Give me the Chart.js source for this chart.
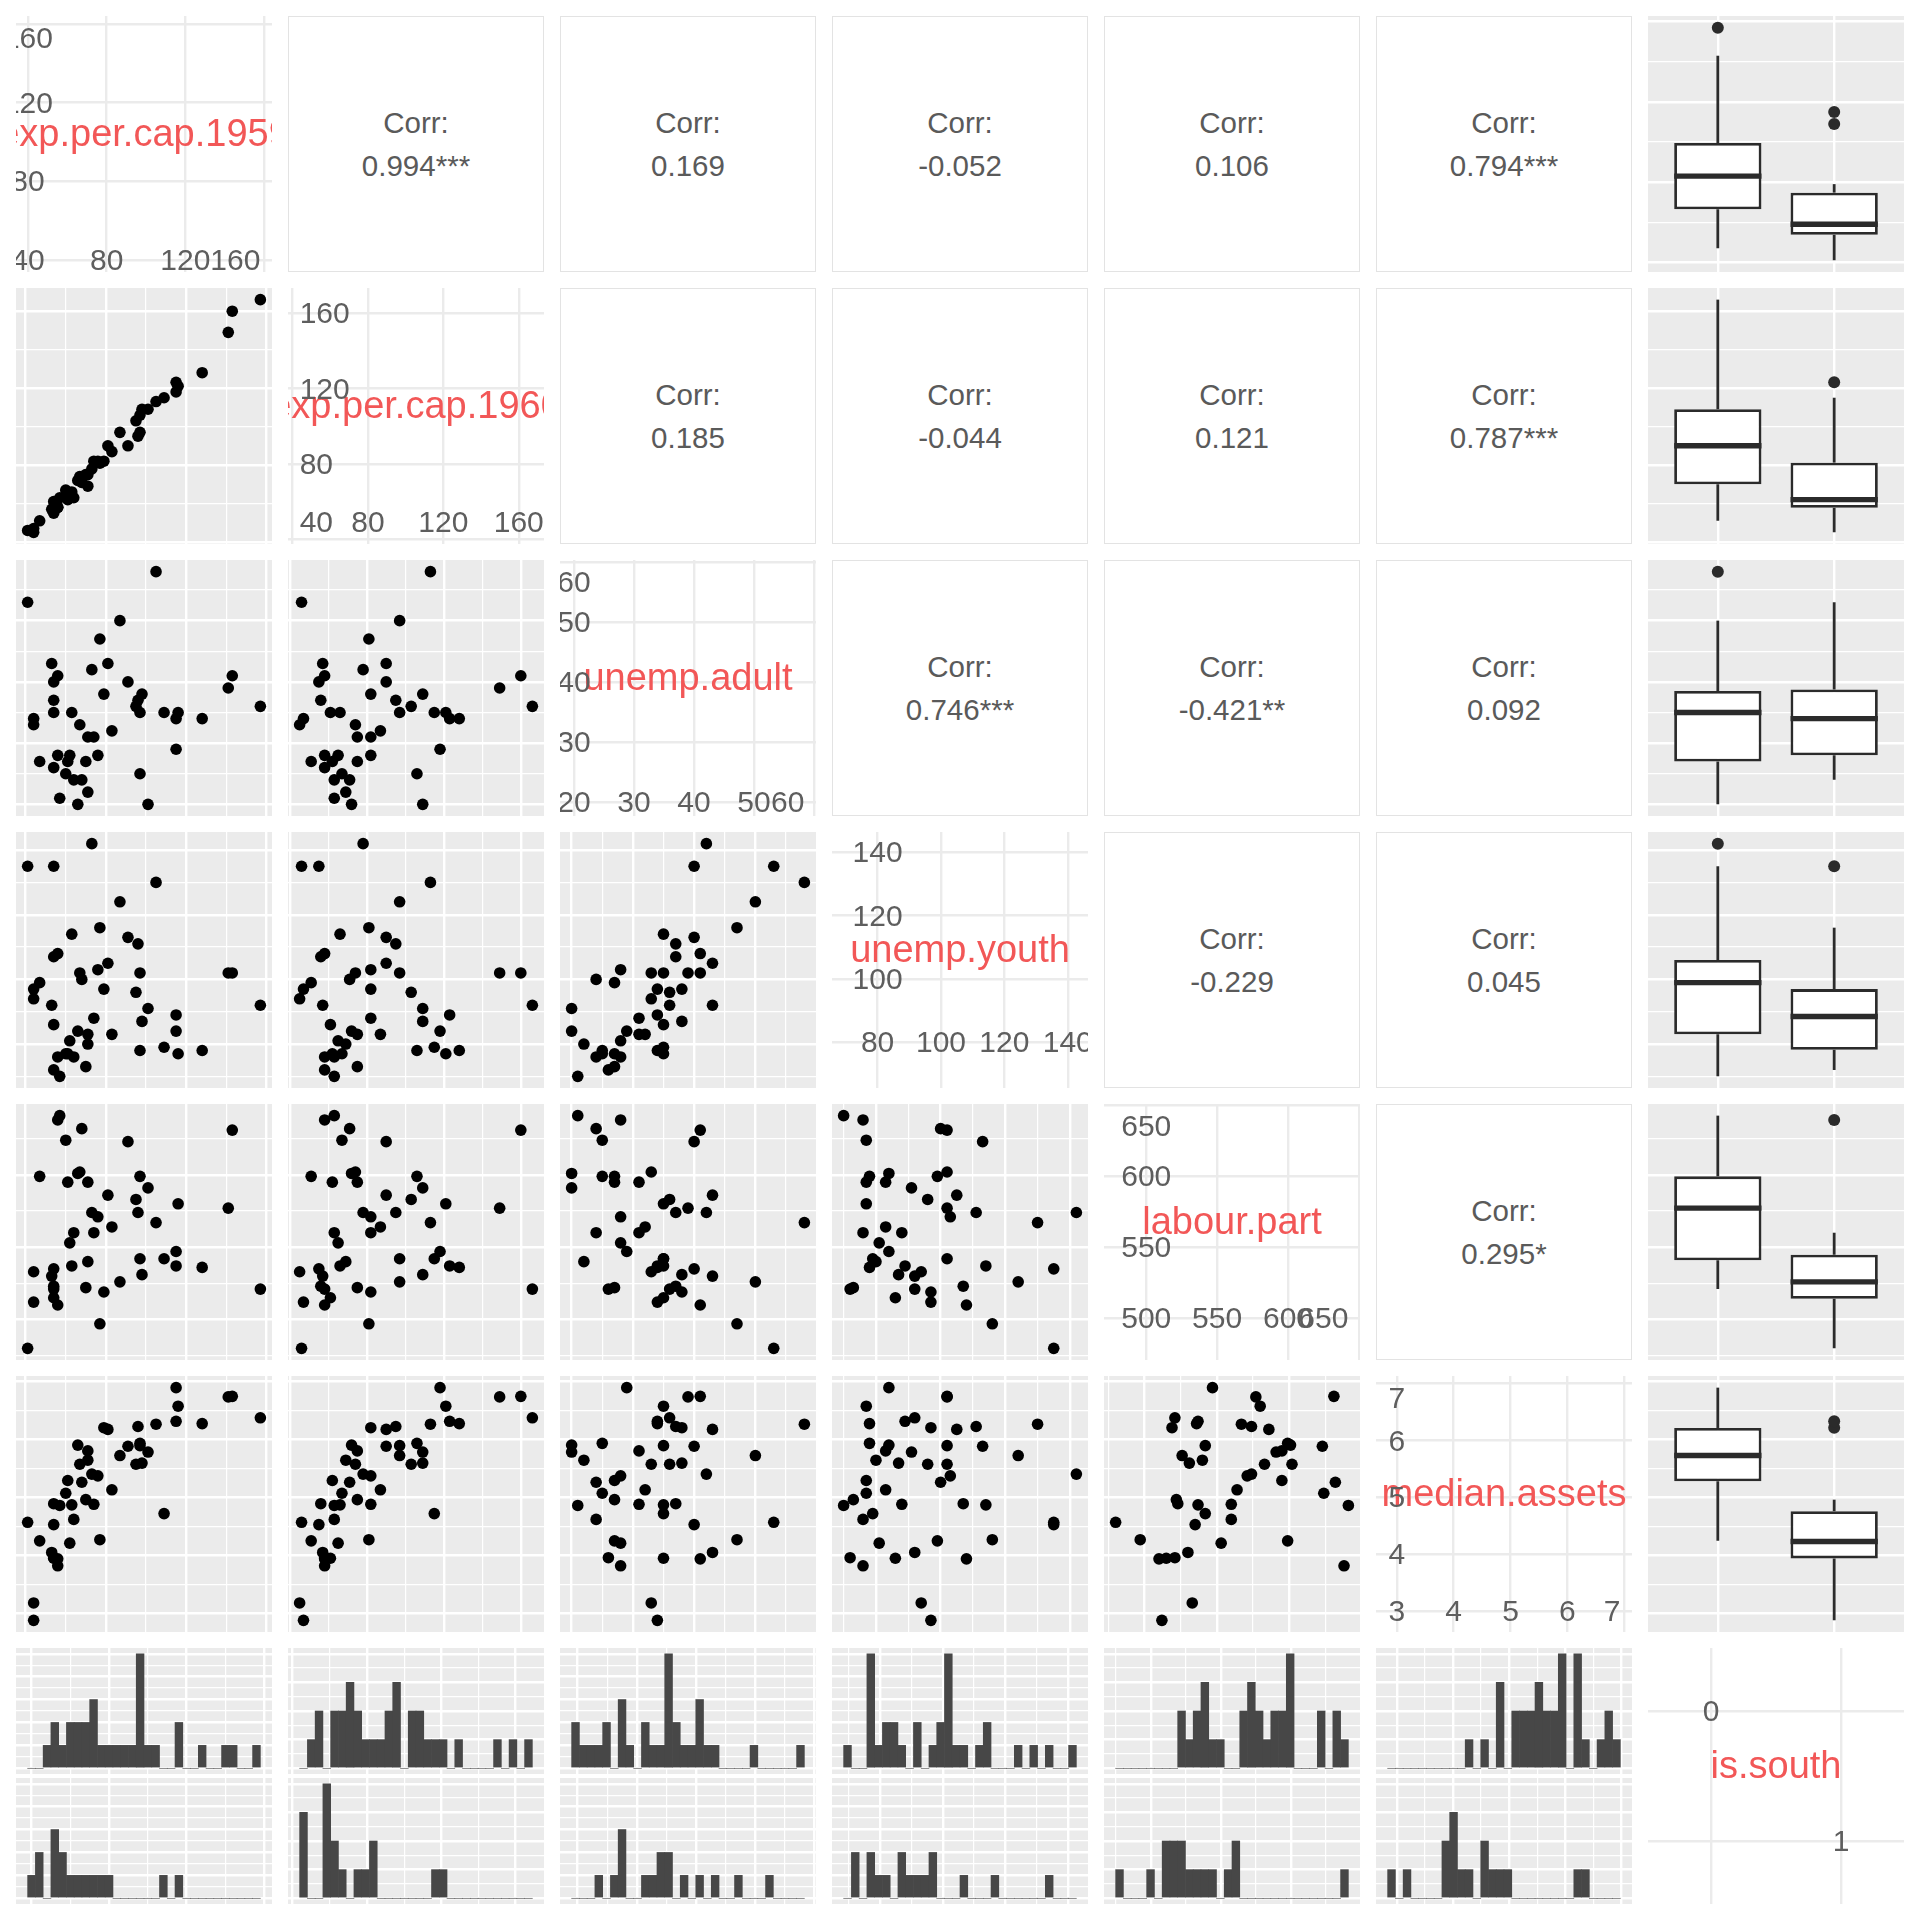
<!DOCTYPE html>
<html>
<head>
<meta charset="utf-8">
<title>ggpairs – UScrime subset</title>
<script src="https://cdn.jsdelivr.net/npm/chart.js@4.4.1/dist/chart.umd.min.js"></script>
<style>
  html, body { margin: 0; padding: 0; background: #ffffff; }
  #wrap { position: relative; width: 1920px; height: 1920px; background: #ffffff;
          font-family: "Liberation Sans", Arial, Helvetica, sans-serif; }
  .panel { position: absolute; overflow: hidden; }
  .panel canvas { display: block; }
  .corr { box-sizing: border-box; border: 1px solid #E3E3E3; background: #ffffff;
          display: flex; flex-direction: column; justify-content: center; align-items: center;
          color: #5A5A5A; font-size: 29.5px; line-height: 43px; text-align: center; }
</style>
</head>
<body>
<div id="wrap"></div>
<script>
// ---------------- DATA (47 states) ----------------
const isSouth = [1,0,1,0,0,0,1,1,1,0, 0,0,0,0,1,1,0,1,0,0, 0,1,0,0,0,0,0,0,0,1, 0,0,1,0,0,0,1,0,1,1, 0,0,1,0,1,0,0];
const expPerCap1959 = [56,95,44,141,101,115,79,109,62,68, 116,71,60,61,53,77,63,115,128,105, 67,44,83,73,57,143,71,76,157,54, 54,81,64,97,87,98,56,47,54,74, 66,54,70,96,41,97,91];
const expPerCap1960 = [58,103,45,149,109,118,82,115,65,71, 121,75,67,62,57,81,66,123,128,113, 74,47,87,78,63,160,69,82,166,58, 55,90,63,97,97,109,58,51,61,82, 72,56,75,95,46,106,90];
const unempAdult = [41,36,33,39,20,29,38,35,28,24, 35,31,25,27,43,47,35,34,34,58, 33,34,32,42,21,41,22,28,36,26, 40,43,24,35,50,38,28,27,35,31, 20,37,27,37,53,25,40];
const unempYouth = [108,96,94,102,91,84,97,79,81,100, 77,83,77,77,92,116,114,89,78,130, 102,97,83,142,70,102,80,103,92,72, 135,105,76,102,124,87,76,99,86,88, 84,107,73,111,135,78,113];
const labourPart = [510,583,533,577,591,547,519,542,553,632, 580,595,624,595,530,497,537,537,536,567, 602,512,564,574,641,631,540,571,521,521, 535,586,560,542,526,531,638,599,515,560, 601,523,522,574,480,599,623];
const medianAssets = [3.94,5.57,3.18,6.73,5.78,6.89,6.20,4.72,4.21,5.26, 6.57,5.80,5.07,5.29,4.05,4.27,4.87,6.31,6.27,6.26, 5.57,2.88,5.13,5.40,4.86,6.74,5.64,5.37,6.37,3.96, 4.53,6.17,4.62,5.89,5.72,5.59,3.82,4.25,3.95,4.88, 5.90,4.89,4.96,6.22,4.57,5.93,5.88];

const varNames = ["exp.per.cap.1959","exp.per.cap.1960","unemp.adult","unemp.youth","labour.part","median.assets","is.south"];
const tickBreaks1959 = [40,80,120,160];
const tickBreaks1960 = [40,80,120,160];
const tickBreaksAdult = [20,30,40,50,60];
const tickBreaksYouth = [80,100,120,140];
const tickBreaksLabour = [500,550,600,650];
const tickBreaksAssets = [3,4,5,6,7];
const southLevels = ["0","1"];

// correlation labels (upper triangle, row by row)
const corrRow1 = ["0.994***","0.169","-0.052","0.106","0.794***"];
const corrRow2 = ["0.185","-0.044","0.121","0.787***"];
const corrRow3 = ["0.746***","-0.421**","0.092"];
const corrRow4 = ["-0.229","0.045"];
const corrRow5 = ["0.295*"];

const vars = [expPerCap1959, expPerCap1960, unempAdult, unempYouth, labourPart, medianAssets];
const tickBreaks = [tickBreaks1959, tickBreaks1960, tickBreaksAdult, tickBreaksYouth, tickBreaksLabour, tickBreaksAssets];
const corrRows = [corrRow1, corrRow2, corrRow3, corrRow4, corrRow5];

// ---------------- STYLE ----------------
const FONT = '"Liberation Sans", Arial, Helvetica, sans-serif';
const PANEL = 256, STEP = 272, ORIGIN = 16;
const FACET_H = 126, FACET_GAP = 4;
const GRID_MAJOR = 2.4, GRID_MINOR = 1.2;
const PANEL_BG = '#EBEBEB';
const DIAG_GRID = '#EBEBEB';
const LABEL_RED = '#F25757';
const TICK_GREY = '#5E5E5E';
const BOX_COL = '#2B2B2B';
const BOX_LINE = 2.8, MEDIAN_LINE = 5.4;
const HIST_COL = '#474747';
const POINT_R = 5.8, OUTLIER_R = 6;
const TICK_FONT = '30px ' + FONT;
const LABEL_FONT = '38px ' + FONT;

const wrap = document.getElementById('wrap');

// ---------------- helpers ----------------
function dataRange(v) { return [Math.min(...v), Math.max(...v)]; }
function expand(lo, hi, f = 0.05) { const d = (hi - lo) * f; return [lo - d, hi + d]; }
function minorBreaks(majors, lo, hi) {
  if (majors.length < 2) return [];
  const d = majors[1] - majors[0];
  const b = majors.slice();
  if (lo < b[0]) b.unshift(b[0] - d);
  if (hi > b[b.length - 1]) b.push(b[b.length - 1] + d);
  const out = [];
  for (let i = 0; i < b.length - 1; i++) out.push((b[i] + b[i + 1]) / 2);
  return out.filter(v => v >= lo && v <= hi);
}
function quantile7(s, p) {
  const h = (s.length - 1) * p, lo = Math.floor(h), hi = Math.ceil(h);
  return s[lo] + (h - lo) * (s[hi] - s[lo]);
}
function boxStats(vals) {
  const s = vals.slice().sort((a, b) => a - b);
  const q1 = quantile7(s, 0.25), med = quantile7(s, 0.5), q3 = quantile7(s, 0.75);
  const iqr = q3 - q1, lo = q1 - 1.5 * iqr, hi = q3 + 1.5 * iqr;
  const inside = s.filter(v => v >= lo && v <= hi);
  return { q1, med, q3, wmin: inside[0], wmax: inside[inside.length - 1], out: s.filter(v => v < lo || v > hi) };
}
function histogramBreaks(vals, bins) {
  const [mn, mx] = dataRange(vals);
  const w = (mx - mn) / (bins - 1);
  const boundary = w / 2;
  const shift = Math.floor((mn - boundary) / w);
  const origin = boundary + shift * w;
  const maxX = mx + (1 - 1e-8) * w;
  const n = Math.floor((maxX - origin) / w + 1e-10);
  const breaks = [];
  for (let k = 0; k <= n; k++) breaks.push(origin + k * w);
  const fuzz = 1e-8 * w;
  const fuzzy = breaks.map((b, k) => k === 0 ? b - fuzz : b + fuzz);
  return { breaks, fuzzy, w };
}
function binCounts(vals, h) {
  const c = new Array(h.breaks.length - 1).fill(0);
  vals.forEach(v => {
    for (let k = 0; k < c.length; k++) {
      const inLow = k === 0 ? v >= h.fuzzy[0] : v > h.fuzzy[k];
      if (inLow && v <= h.fuzzy[k + 1]) { c[k]++; break; }
    }
  });
  return c;
}

function linAxis(lo, hi, majors, minors, color, reverse) {
  const minorSet = new Set(minors);
  const all = majors.concat(minors).sort((a, b) => a - b);
  return {
    type: 'linear', min: lo, max: hi, reverse: !!reverse, offset: false, beginAtZero: false,
    border: { display: false },
    ticks: { display: false },
    grid: {
      display: true, drawTicks: false, tickLength: 0, offset: false, color: color,
      lineWidth: c => (c.tick && minorSet.has(c.tick.value)) ? GRID_MINOR : GRID_MAJOR
    },
    afterBuildTicks: s => { s.ticks = all.map(v => ({ value: v })); },
    afterFit: s => { if (s.isHorizontal()) s.height = 0; else s.width = 0; }
  };
}
function axisFor(k, lo, hi, color, withMinor) {
  const majors = tickBreaks[k].filter(v => v >= lo && v <= hi);
  const minors = withMinor ? minorBreaks(majors, lo, hi) : [];
  return linAxis(lo, hi, majors, minors, color);
}
function baseOptions(x, y) {
  return {
    responsive: false, animation: false, events: [], maintainAspectRatio: false,
    layout: { padding: 0, autoPadding: false },
    plugins: { legend: { display: false }, tooltip: { enabled: false } },
    scales: { x, y }
  };
}
function textPlugin(items) {
  return {
    id: 'panelText',
    afterDatasetsDraw(chart) {
      const { ctx, chartArea: a } = chart;
      const sx = chart.scales.x, sy = chart.scales.y;
      items.forEach(it => {
        ctx.save();
        ctx.font = it.font;
        ctx.fillStyle = it.color;
        ctx.textAlign = 'left';
        ctx.textBaseline = 'alphabetic';
        const m = ctx.measureText(it.text);
        const asc = m.actualBoundingBoxAscent;
        const px = it.fx !== undefined ? a.left + it.fx * (a.right - a.left) : sx.getPixelForValue(it.x);
        const py = it.fy !== undefined ? a.bottom - it.fy * (a.bottom - a.top) : sy.getPixelForValue(it.y);
        // hjust: 0 = left aligned, 1 = right aligned; vjust: 0 = text above point, 1 = text below point
        ctx.fillText(it.text, px - m.width * it.hjust, py + asc * it.vjust);
        ctx.restore();
      });
    }
  };
}
function mkDiv(left, top, w, h, cls) {
  const d = document.createElement('div');
  d.className = 'panel' + (cls ? ' ' + cls : '');
  d.style.left = left + 'px'; d.style.top = top + 'px';
  d.style.width = w + 'px'; d.style.height = h + 'px';
  wrap.appendChild(d);
  return d;
}
function mkCanvas(parent, w, h, bg) {
  const c = document.createElement('canvas');
  c.width = w; c.height = h;
  c.style.width = w + 'px'; c.style.height = h + 'px';
  c.style.background = bg;
  parent.appendChild(c);
  return c;
}

// ---------------- panel builders ----------------
function scatterPanel(el, xi, yi) {
  const xv = vars[xi], yv = vars[yi];
  const [xlo, xhi] = expand(...dataRange(xv));
  const [ylo, yhi] = expand(...dataRange(yv));
  const pts = xv.map((x, k) => ({ x: x, y: yv[k] }));
  const cv = mkCanvas(el, PANEL, PANEL, PANEL_BG);
  new Chart(cv, {
    type: 'scatter',
    data: { datasets: [{ data: pts, pointRadius: POINT_R, pointHoverRadius: POINT_R, backgroundColor: '#000000', borderWidth: 0 }] },
    options: baseOptions(axisFor(xi, xlo, xhi, '#ffffff', true), axisFor(yi, ylo, yhi, '#ffffff', true))
  });
}

function lineDs(points, width, order) {
  return { type: 'scatter', showLine: true, data: points, borderColor: BOX_COL, borderWidth: width,
           pointRadius: 0, pointHoverRadius: 0, borderCapStyle: 'butt', order: order };
}

function boxPanel(el, k) {
  const v = vars[k];
  const [ylo, yhi] = expand(...dataRange(v));
  const stats = southLevels.map((lev, g) => boxStats(v.filter((_, i) => isSouth[i] === g)));
  const datasets = [{
    type: 'bar', data: stats.map((s, g) => ({ x: g + 1, y: [s.q1, s.q3] })),
    backgroundColor: '#ffffff', borderColor: BOX_COL, borderWidth: BOX_LINE, borderSkipped: false,
    categoryPercentage: 1, barPercentage: 0.75, order: 2
  }];
  stats.forEach((s, g) => {
    const cx = g + 1, half = 0.375;
    datasets.push(lineDs([{ x: cx, y: s.q3 }, { x: cx, y: s.wmax }], BOX_LINE, 3));
    datasets.push(lineDs([{ x: cx, y: s.q1 }, { x: cx, y: s.wmin }], BOX_LINE, 3));
    datasets.push(lineDs([{ x: cx - half, y: s.med }, { x: cx + half, y: s.med }], MEDIAN_LINE, 1));
    if (s.out.length) {
      datasets.push({ type: 'scatter', data: s.out.map(y => ({ x: cx, y: y })), pointRadius: OUTLIER_R,
                      pointHoverRadius: OUTLIER_R, backgroundColor: BOX_COL, borderWidth: 0, order: 0 });
    }
  });
  const cv = mkCanvas(el, PANEL, PANEL, PANEL_BG);
  new Chart(cv, {
    type: 'bar',
    data: { datasets },
    options: baseOptions(linAxis(0.4, 2.6, [1, 2], [], '#ffffff'), axisFor(k, ylo, yhi, '#ffffff', true))
  });
}

function histPanel(left, top, k) {
  const v = vars[k];
  const h = histogramBreaks(v, 30);
  const centers = h.breaks.slice(0, -1).map((b, i) => (b + h.breaks[i + 1]) / 2);
  const counts = southLevels.map((lev, g) => binCounts(v.filter((_, i) => isSouth[i] === g), h));
  const M = Math.max(...counts[0], ...counts[1]);
  const [xlo, xhi] = expand(h.breaks[0], h.breaks[h.breaks.length - 1]);
  const [ylo, yhi] = expand(0, M);
  const stepC = M <= 5 ? 1 : 2;
  const ymaj = [];
  for (let c = 0; c <= yhi; c += stepC) ymaj.push(c);
  const ymin = minorBreaks(ymaj, ylo, yhi);
  counts.forEach((cnt, g) => {
    const el = mkDiv(left, top + g * (FACET_H + FACET_GAP), PANEL, FACET_H);
    const cv = mkCanvas(el, PANEL, FACET_H, PANEL_BG);
    new Chart(cv, {
      type: 'bar',
      data: { datasets: [{ data: centers.map((x, i) => ({ x: x, y: cnt[i] })), backgroundColor: HIST_COL,
                           borderWidth: 0, categoryPercentage: 1, barPercentage: 1 }] },
      options: baseOptions(axisFor(k, xlo, xhi, '#ffffff', true), linAxis(ylo, yhi, ymaj, ymin, '#ffffff'))
    });
  });
}

function diagNumeric(el, k) {
  const v = vars[k];
  const [mn, mx] = dataRange(v);
  const r = mx - mn;
  const xr = [mn - 0.01 * r, mx + 0.01 * r];
  const [lo, hi] = expand(xr[0], xr[1]);
  const br = tickBreaks[k].filter(b => b >= lo && b <= hi);
  const b0 = br[0];
  const rows = br.map(b => ({ x: b0, y: b })).concat(br.map(b => ({ x: b, y: b0 })));
  rows.shift();
  const items = [{ text: varNames[k], x: xr[0] + 0.5 * (xr[1] - xr[0]), y: xr[0] + 0.55 * (xr[1] - xr[0]),
                   hjust: 0.5, vjust: 0.5, font: LABEL_FONT, color: LABEL_RED }];
  rows.forEach(p => {
    const it = { text: String(p.x === b0 ? p.y : p.x), x: p.x, y: p.y, hjust: 0.5, vjust: 0.5, font: TICK_FONT, color: TICK_GREY };
    if (p.y < xr[0]) { it.y = xr[0]; it.vjust = 0; } else if (p.y > xr[1]) { it.y = xr[1]; it.vjust = 1; }
    if (p.x < xr[0]) { it.x = xr[0]; it.hjust = 0; } else if (p.x > xr[1]) { it.x = xr[1]; it.hjust = 1; }
    items.push(it);
  });
  const cv = mkCanvas(el, PANEL, PANEL, '#ffffff');
  new Chart(cv, {
    type: 'scatter',
    data: { datasets: [] },
    options: baseOptions(linAxis(lo, hi, br, [], DIAG_GRID), linAxis(lo, hi, br, [], DIAG_GRID)),
    plugins: [textPlugin(items)]
  });
}

function diagFactor(el) {
  const levels = southLevels.map((_, i) => i);
  const items = [{ text: varNames[6], fx: 0.5, fy: (0.55 + 0.05) / 1.1, hjust: 0.5, vjust: 0.5, font: LABEL_FONT, color: LABEL_RED }];
  southLevels.forEach((lab, i) => items.push({ text: lab, x: i, y: i, hjust: 0.5, vjust: 0.5, font: TICK_FONT, color: TICK_GREY }));
  const cv = mkCanvas(el, PANEL, PANEL, '#ffffff');
  new Chart(cv, {
    type: 'scatter',
    data: { datasets: [] },
    options: baseOptions(linAxis(-0.485, 1.485, levels, [], DIAG_GRID), linAxis(-0.485, 1.485, levels, [], DIAG_GRID, true)),
    plugins: [textPlugin(items)]
  });
}

function corrPanel(el, txt) {
  el.classList.add('corr');
  const a = document.createElement('div'); a.textContent = 'Corr:';
  const b = document.createElement('div'); b.textContent = txt;
  el.appendChild(a); el.appendChild(b);
}

// ---------------- build the matrix ----------------
for (let i = 0; i < 7; i++) {
  for (let j = 0; j < 7; j++) {
    const left = ORIGIN + STEP * j, top = ORIGIN + STEP * i;
    if (i === 6 && j < 6) { histPanel(left, top, j); continue; }
    const el = mkDiv(left, top, PANEL, PANEL);
    if (i === j) { if (i < 6) diagNumeric(el, i); else diagFactor(el); }
    else if (i < j) { if (j === 6) boxPanel(el, i); else corrPanel(el, corrRows[i][j - i - 1]); }
    else scatterPanel(el, j, i);
  }
}
</script>
</body>
</html>
